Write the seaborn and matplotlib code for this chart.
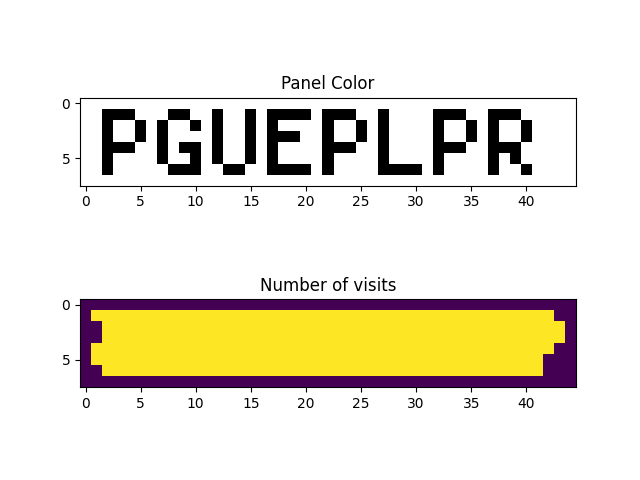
import numpy as np
import matplotlib
matplotlib.use("Agg")
import matplotlib.pyplot as plt
import seaborn as sns

# panel colour grid, '#' = filled cell
panel_rows = [
    "." * 45,
    "..###...##..#..#.####.###..#....###..###.....",
    "..#..#.#..#.#..#.#....#..#.#....#..#.#..#....",
    "..#..#.#....#..#.###..#..#.#....#..#.#..#....",
    "..###..#.##.#..#.#....###..#....###..###.....",
    "..#....#..#.#..#.#....#....#....#....#.#.....",
    "..#.....###..##..####.#....####.#....#..#....",
    "." * 45,
]

# number of visits grid
visit_rows = [
    "." * 45,
    "." + "#" * 42 + "..",
    ".." + "#" * 42 + ".",
    ".." + "#" * 42 + ".",
    "." + "#" * 42 + "..",
    "." + "#" * 41 + "...",
    ".." + "#" * 40 + "...",
    "." * 45,
]

titles = ["Panel Color", "Number of visits"]
cmaps = ["gray_r", "viridis"]
xtick_labels = [0, 5, 10, 15, 20, 25, 30, 35, 40]
ytick_labels = [0, 5]


def to_array(rows):
    for r in rows:
        assert len(r) == 45
    return np.array([[1.0 if c == "#" else 0.0 for c in r] for r in rows])


grids = [to_array(panel_rows), to_array(visit_rows)]

fig, axes = plt.subplots(2, 1, figsize=(6.4, 4.8), dpi=100)

for ax, grid, title, cmap in zip(axes, grids, titles, cmaps):
    sns.heatmap(grid, ax=ax, cmap=cmap, vmin=0, vmax=1, cbar=False,
                square=True, xticklabels=False, yticklabels=False)
    for s in ax.spines.values():
        s.set_visible(True)
        s.set_color("black")
        s.set_linewidth(0.8)
    ax.set_xticks(np.array(xtick_labels) + 0.5)
    ax.set_xticklabels(xtick_labels, rotation=0)
    ax.set_yticks(np.array(ytick_labels) + 0.5)
    ax.set_yticklabels(ytick_labels, rotation=0)
    ax.tick_params(direction="out", length=3.5, width=0.8, labelsize=10,
                   bottom=True, left=True)
    ax.set_title(title, fontsize=12)

fig.savefig("out.png", dpi=100)
